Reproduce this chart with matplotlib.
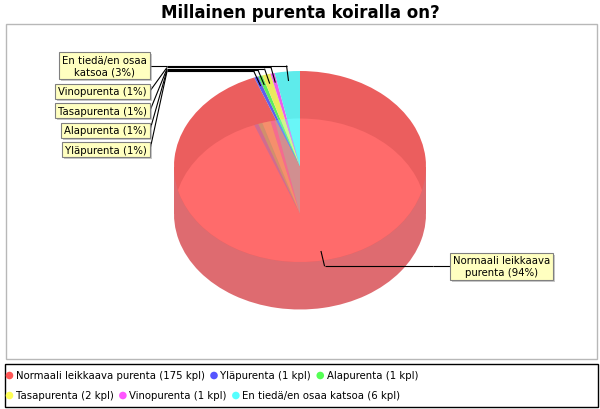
import textwrap
import numpy as np
import matplotlib
matplotlib.use('Agg')
import matplotlib.pyplot as plt
from matplotlib.patches import Ellipse, Rectangle, Circle

# ---------------- data ----------------
categories = ['Normaali leikkaava purenta', 'Yläpurenta', 'Alapurenta',
              'Tasapurenta', 'Vinopurenta', 'En tiedä/en osaa katsoa']
counts = [175, 1, 1, 2, 1, 6]
title = 'Millainen purenta koiralla on?'

palette = ['#FF5555', '#5555FF', '#55FF55', '#FFFF55', '#FF55FF', '#55FFFF']

total = sum(counts)
pcts = [int(round(100 * c / total)) for c in counts]
label_texts = [textwrap.fill(f'{n} ({p}%)', 18) for n, p in zip(categories, pcts)]
legend_texts = [f'{n} ({c} kpl)' for n, c in zip(categories, counts)]

# ---------------- style helpers ----------------
def rgb(h):
    h = h.lstrip('#')
    return np.array([int(h[i:i + 2], 16) for i in (0, 2, 4)]) / 255.0

def top_col(h):
    c = rgb(h)
    return np.clip(0.92 * (0.9 * c + 0.1), 0, 1)

def lens_col(h):
    c = rgb(h)
    return np.clip(0.87 * c + 0.13, 0, 1)

def side_col(h):
    c = rgb(h)
    return np.clip(0.7 * c + 0.3 * np.array([145, 160, 175]) / 255.0, 0, 1)

W, H = 600, 410
fig = plt.figure(figsize=(W / 100, H / 100), dpi=100)
fig.patch.set_facecolor('white')

bg = fig.add_axes([0, 0, 1, 1], zorder=0)
bg.set_xlim(0, W); bg.set_ylim(H, 0); bg.axis('off')

# plot border and legend frame
bg.add_patch(Rectangle((5.5, 24.5), 591, 335, fill=False, ec='#B8B8B8', lw=1))
bg.add_patch(Rectangle((4.5, 364.5), 593, 43, fill=False, ec='black', lw=1))

bg.text(W / 2, 13, title, ha='center', va='center', fontsize=12,
        fontweight='bold', family='DejaVu Sans')

# ---------------- 3D pie geometry (pixels) ----------------
CX, CY = 300.0, 167.5
RX, RY = 126.0, 95.5
DEPTH = 47.5
top_px = CY - RY
bot_px = CY + DEPTH + RY
pax = fig.add_axes([(CX - RX) / W, 1 - bot_px / H, 2 * RX / W, (bot_px - top_px) / H], zorder=1)
pax.patch.set_alpha(0)
d = DEPTH / RY

pax.add_patch(Rectangle((-1, -d), 2, d, color=side_col(palette[0]), lw=0, zorder=0.5))
# bottom face / side
pax.pie(counts, colors=[side_col(c) for c in palette], startangle=90, counterclock=False,
        center=(0, -d), radius=1, wedgeprops=dict(linewidth=0, zorder=1))
# top face
pax.pie(counts, colors=[top_col(c) for c in palette], startangle=90, counterclock=False,
        center=(0, 0), radius=1, wedgeprops=dict(linewidth=0, zorder=2))
# lighter overlap of top and bottom faces
lens, _ = pax.pie(counts, colors=[lens_col(c) for c in palette], startangle=90, counterclock=False,
                  center=(0, 0), radius=1, wedgeprops=dict(linewidth=0, zorder=3))
clip_bottom = Ellipse((0, -d), 2, 2, transform=pax.transData)
for w in lens:
    w.set_clip_path(clip_bottom)
    w.set_clip_on(True)
# faint ghosts of the lower small slices seen through the top
ghost_cols = ['none'] + [side_col(c) for c in palette[1:]]
ghosts, _ = pax.pie(counts, colors=ghost_cols, startangle=90, counterclock=False,
                    center=(0, -d), radius=1, wedgeprops=dict(linewidth=0, zorder=4, alpha=0.3))
clip_top = Ellipse((0, 0), 2, 2, transform=pax.transData)
for w in ghosts:
    w.set_clip_path(clip_top)
    w.set_clip_on(True)
pax.set_aspect('auto')
pax.set_xlim(-1, 1)
pax.set_ylim(-(DEPTH + RY) / RY, 1)
pax.axis('off')

# ---------------- labels and leader lines ----------------
ov = fig.add_axes([0, 0, 1, 1], zorder=3)
ov.patch.set_alpha(0)
ov.set_xlim(0, W); ov.set_ylim(H, 0); ov.axis('off')
renderer = fig.canvas.get_renderer()

LINK_P = 0.9
RXL, RYL = 133.0, 101.5
GAP = 17.0
PADX = 3.0
FS_LABEL = 7.3

cum = np.cumsum([0] + counts)
mids = (cum[:-1] + cum[1:]) / 2 / total * 2 * np.pi  # clockwise from 12 o'clock

recs = []
for i, th in enumerate(mids):
    s, c = np.sin(th), np.cos(th)
    link = (CX + RX * LINK_P * s, CY - RY * LINK_P * c)
    elbow = (CX + RXL * s, CY - RYL * c)
    left = s < 0
    recs.append(dict(i=i, link=link, elbow=elbow, left=left,
                     lines=label_texts[i].count('\n') + 1))

def box_h(n):
    return 12.0 * n + 3

def place(side_recs):
    side_recs.sort(key=lambda r: r['elbow'][1])
    prev_bottom = -1e9
    for r in side_recs:
        h = box_h(r['lines'])
        y = max(r['elbow'][1], prev_bottom + 4.5 + h / 2)
        r['ly'] = y
        prev_bottom = y + h / 2

place([r for r in recs if r['left']])
place([r for r in recs if not r['left']])

for r in recs:
    ex, ey = r['elbow']
    ax_ = CX - RXL if r['left'] else CX + RXL
    tx = ax_ - GAP if r['left'] else ax_ + GAP
    ty = r['ly']
    ov.plot([r['link'][0], ex], [r['link'][1], ey], color='black', lw=0.8, solid_capstyle='butt')
    ov.plot([ex, ax_], [ey, ey], color='black', lw=0.8, solid_capstyle='butt')
    ov.plot([ax_, tx], [ey, ty], color='black', lw=0.8, solid_capstyle='butt')
    if r['left']:
        t = ov.text(tx - PADX, ty, label_texts[r['i']], ha='right', va='center',
                    multialignment='center', fontsize=FS_LABEL, family='DejaVu Sans', zorder=5)
    else:
        t = ov.text(tx + PADX, ty, label_texts[r['i']], ha='left', va='center',
                    multialignment='center', fontsize=FS_LABEL, family='DejaVu Sans', zorder=5)
    bb = t.get_window_extent(renderer=renderer)
    x0, x1 = bb.x0 - PADX, bb.x1 + PADX
    h = box_h(r['lines'])
    y0 = ty - h / 2
    ov.add_patch(Rectangle((x0 + 2, y0 + 2), x1 - x0, h, color=(0.59, 0.59, 0.59), alpha=0.5, lw=0, zorder=3))
    ov.add_patch(Rectangle((x0, y0), x1 - x0, h, fc='#FFFFC0', ec='#808080', lw=0.8, zorder=4))

# ---------------- legend ----------------
rows = [[0, 1, 2], [3, 4, 5]]
row_y = [376.5, 396.5]
for row, yy in zip(rows, row_y):
    x = 5.5
    for i in row:
        ov.add_patch(Circle((x + 4, yy), 3.8, color=palette[i], lw=0, zorder=5))
        t = ov.text(x + 10.5, yy, legend_texts[i], ha='left', va='center',
                    fontsize=7.3, family='DejaVu Sans', zorder=5)
        bb = t.get_window_extent(renderer=renderer)
        x = bb.x1 + 5

fig.savefig('out.png', dpi=100, facecolor='white')
